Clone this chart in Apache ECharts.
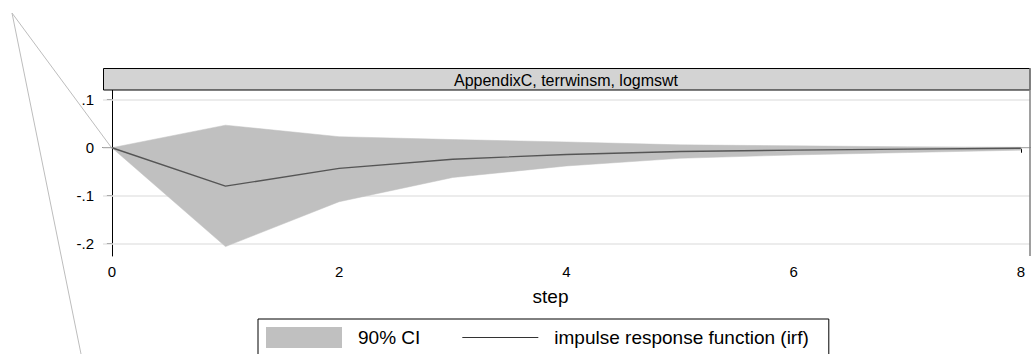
<!DOCTYPE html>
<html>
<head>
<meta charset="utf-8">
<script src="https://cdn.jsdelivr.net/npm/echarts@6/dist/echarts.min.js"></script>
<style>
  html, body { margin: 0; padding: 0; background: #fff; }
  #chart { width: 1033px; height: 354px; }
</style>
</head>
<body>
<div id="chart"></div>
<script>
// impulse response, step 0..8
const steps = [0, 1, 2, 3, 4, 5, 6, 7, 8];
const irf = [0, -0.080, -0.043, -0.024, -0.014, -0.008, -0.005, -0.003, -0.001];
const ciLower = [0, -0.206, -0.1125, -0.062, -0.038, -0.022, -0.015, -0.010, -0.005];
const ciUpper = [0, 0.047, 0.023, 0.017, 0.012, 0.006, 0.004, 0.002, 0.001];
const xTicks = [0, 2, 4, 6, 8];
const yTicks = [0.1, 0, -0.1, -0.2];
const panelTitle = "AppendixC, terrwinsm, logmswt";

const font = "Liberation Sans, Arial, sans-serif";
const chart = echarts.init(document.getElementById("chart"), null, { renderer: "svg" });

const bandData = steps.map((s, i) => [s, ciLower[i], ciUpper[i]]);
const irfData = steps.map((s, i) => [s, irf[i]]);

const fmtY = (v) => (v === 0 ? "0" : String(+v.toFixed(2)).replace("0.", "."));

// whole CI band as one polygon, drawn once
const renderBand = (params, api) => {
  if (params.dataIndex !== 0) return null;
  const top = steps.map((s, i) => api.coord([s, ciUpper[i]]));
  const bot = steps.map((s, i) => api.coord([s, ciLower[i]])).reverse();
  return {
    type: "polygon",
    shape: { points: top.concat(bot) },
    style: { fill: "#c0c0c0", stroke: "#c0c0c0", lineWidth: 0.5 }
  };
};

const tickFont = { fontSize: 15, color: "#000", fontFamily: font };

chart.setOption({
  animation: false,
  backgroundColor: "#fff",
  grid: { left: 103, right: 3, top: 90, bottom: 98, show: false },
  xAxis: {
    type: "value",
    min: -0.078,
    max: 8.08,
    name: "step",
    nameLocation: "middle",
    nameGap: 31,
    nameTextStyle: { fontSize: 19, color: "#000", fontFamily: font, padding: [0, 32, 0, 0] },
    axisLine: { show: true, lineStyle: { color: "#000", width: 1 } },
    axisTick: { show: true, length: 5, customValues: xTicks, lineStyle: { color: "#000" } },
    axisLabel: Object.assign({ customValues: xTicks, margin: 8 }, tickFont),
    splitLine: { show: false }
  },
  yAxis: {
    type: "value",
    min: -0.2256,
    max: 0.1203,
    axisLine: { show: true, lineStyle: { color: "#000", width: 1 } },
    axisTick: { show: true, length: 5, customValues: yTicks, lineStyle: { color: "#000" } },
    axisLabel: Object.assign({ customValues: yTicks, margin: 9, formatter: fmtY }, tickFont),
    splitLine: { show: false }
  },
  legend: {
    left: 258,
    top: 319,
    padding: [8, 20, 8, 8],
    borderColor: "#000",
    borderWidth: 1,
    itemWidth: 76,
    itemHeight: 21,
    itemGap: 42,
    symbolKeepAspect: true,
    textStyle: { fontSize: 19, color: "#000", fontFamily: font, padding: [0, 0, 0, 11] },
    data: [
      { name: "90% CI", icon: "rect", itemStyle: { color: "#c0c0c0" } },
      { name: "impulse response function (irf)", icon: "path://M0,0 H74 V1 H0 Z", itemStyle: { color: "#333" } }
    ]
  },
  series: [
    {
      name: "grid",
      type: "line",
      data: [],
      z: 1,
      markLine: {
        silent: true,
        symbol: "none",
        z: 1,
        label: { show: false },
        lineStyle: { color: "#e6e6e6", width: 1.5, type: "solid" },
        data: yTicks.map((v) => ({ yAxis: v }))
      }
    },
    {
      name: "90% CI",
      type: "custom",
      data: bandData,
      z: 3,
      itemStyle: { color: "#c0c0c0" },
      renderItem: renderBand,
      clip: true
    },
    {
      name: "impulse response function (irf)",
      type: "line",
      data: irfData,
      symbol: "none",
      z: 4,
      itemStyle: { color: "#555" },
      lineStyle: { color: "#555", width: 1.4 }
    }
  ],
  graphic: [
    {
      type: "rect",
      shape: { x: 103.5, y: 68.5, width: 926.5, height: 21.5 },
      style: { fill: "#d3d3d3", stroke: "#000", lineWidth: 1 },
      z: 10
    },
    {
      type: "text",
      x: 566,
      y: 80,
      style: { text: panelTitle, fontSize: 16, fontFamily: font, fill: "#000", align: "center", verticalAlign: "middle" },
      z: 11
    },
    {
      type: "line",
      shape: { x1: 1030, y1: 68, x2: 1030, y2: 256 },
      style: { stroke: "#808080", lineWidth: 1.5 },
      z: 11
    },
    {
      type: "line",
      shape: { x1: 12, y1: 13, x2: 111, y2: 147 },
      style: { stroke: "#bdbdbd", lineWidth: 1 },
      z: 20
    },
    {
      type: "line",
      shape: { x1: 12, y1: 13, x2: 81, y2: 354 },
      style: { stroke: "#bdbdbd", lineWidth: 1 },
      z: 20
    }
  ]
});
</script>
</body>
</html>
